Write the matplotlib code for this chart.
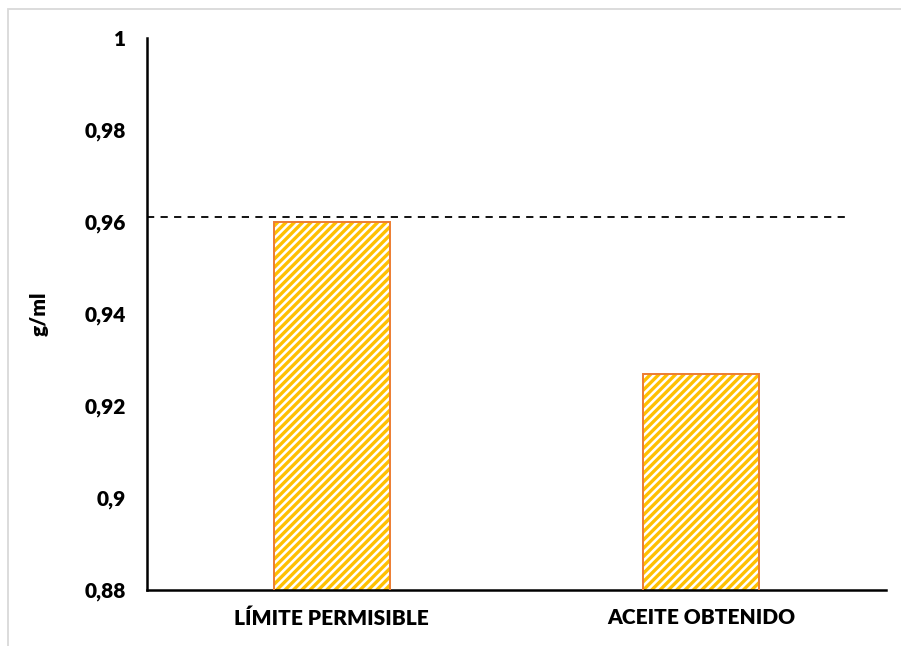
import matplotlib.pyplot as plt
import matplotlib.patches as mpatches

categorias = ["LÍMITE PERMISIBLE", "ACEITE OBTENIDO"]
densidad = [0.96, 0.927]
limite = 0.961
yticks = [0.88, 0.90, 0.92, 0.94, 0.96, 0.98, 1.0]
ytick_labels = ["0,88", "0,9", "0,92", "0,94", "0,96", "0,98", "1"]

plt.rcParams["font.family"] = ["Lato", "DejaVu Sans"]
plt.rcParams["hatch.linewidth"] = 2.4

fig = plt.figure(figsize=(9.01, 6.46), dpi=100)
# borde gris del area del grafico
fig.add_artist(mpatches.Rectangle((8 / 901, -0.01), 1.0, 1 - 8.5 / 646 + 0.01,
                                  transform=fig.transFigure, fill=False,
                                  edgecolor="#D9D9D9", linewidth=1.3))

ax = fig.add_axes([147 / 901, 1 - 590 / 646, (886 - 147) / 901, (590 - 38) / 646])

x = list(range(len(categorias)))
# relleno con trama diagonal dorada y contorno naranja aparte
ax.bar(x, densidad, width=0.315, color="white", edgecolor="#FFC000",
       linewidth=0, hatch="////", zorder=2)
ax.bar(x, densidad, width=0.315, fill=False, edgecolor="#ED7D31",
       linewidth=1.4, zorder=3)
ax.plot([-0.5, 1.39], [limite, limite], color="black", linestyle=(0, (4, 3.5)),
        linewidth=1.3, zorder=4)

ax.set_xlim(-0.5, 1.5)
ax.set_ylim(0.88, 1.0)
ax.set_xticks(x)
ax.set_xticklabels(categorias, fontsize=15, fontweight="heavy")
ax.set_yticks(yticks)
ax.set_yticklabels(ytick_labels, fontsize=15, fontweight="heavy")
ax.tick_params(length=0)
ax.tick_params(axis="x", pad=13)
ax.tick_params(axis="y", pad=15)
ax.set_ylabel("g/ml", fontsize=15, fontweight="heavy", labelpad=26)

for s in ["top", "right"]:
    ax.spines[s].set_visible(False)
for s in ["left", "bottom"]:
    ax.spines[s].set_linewidth(1.8)
    ax.spines[s].set_color("black")

plt.savefig("out.png", dpi=100)
